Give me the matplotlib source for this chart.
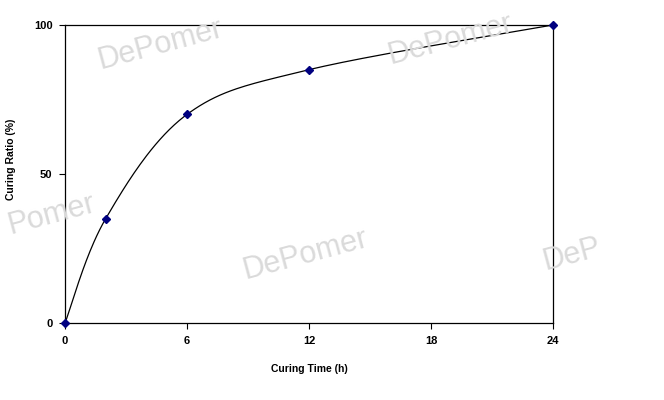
import numpy as np
import matplotlib
matplotlib.use('Agg')
import matplotlib.pyplot as plt

# data
curing_time = [0, 2, 6, 12, 24]
curing_ratio = [0, 35, 70, 85, 100]
x_ticks = [0, 6, 12, 18, 24]
y_ticks = [0, 50, 100]

plt.rcParams['font.family'] = ['Liberation Sans', 'DejaVu Sans']


def smooth_line(xs, ys, n=40):
    # excel style smoothed line: bezier segments with catmull-rom handles
    px = np.array(xs, float)
    py = np.array(ys, float)
    ox, oy = [], []
    for i in range(len(px) - 1):
        x0, y0 = (px[i - 1], py[i - 1]) if i > 0 else (px[i], py[i])
        x3, y3 = (px[i + 2], py[i + 2]) if i + 2 < len(px) else (px[i + 1], py[i + 1])
        c1x = px[i] + (px[i + 1] - x0) / 6
        c1y = py[i] + (py[i + 1] - y0) / 6
        c2x = px[i + 1] - (x3 - px[i]) / 6
        c2y = py[i + 1] - (y3 - py[i]) / 6
        t = np.linspace(0, 1, n)
        ox.extend((1 - t) ** 3 * px[i] + 3 * (1 - t) ** 2 * t * c1x + 3 * (1 - t) * t ** 2 * c2x + t ** 3 * px[i + 1])
        oy.extend((1 - t) ** 3 * py[i] + 3 * (1 - t) ** 2 * t * c1y + 3 * (1 - t) * t ** 2 * c2y + t ** 3 * py[i + 1])
    return ox, oy


fig = plt.figure(figsize=(6.64, 4.0), dpi=100)
ax = fig.add_axes([65 / 664, 1 - 323 / 400, 488 / 664, 298 / 400])

# faint watermarks behind everything
for (wx, wy, txt) in [(95, 45, 'DePomer'), (385, 40, 'DePomer'), (5, 215, 'Pomer'),
                      (240, 255, 'DePomer'), (540, 255, 'DeP')]:
    fig.text(wx / 664, 1 - wy / 400, txt, fontsize=22, color='#dadada',
             rotation=15, va='center', ha='left', zorder=0)

sx, sy = smooth_line(curing_time, curing_ratio)
ax.plot(sx, sy, color='black', lw=0.9, zorder=3)
ax.plot(curing_time, curing_ratio, ls='none', marker='D', ms=4.5,
        color='#000080', zorder=4, clip_on=False)

ax.set_xlim(0, 24)
ax.set_ylim(0, 100)
ax.set_xticks(x_ticks)
ax.set_yticks(y_ticks)
ax.tick_params(direction='out', length=4, width=0.8, labelsize=8, pad=5)
for lab in ax.get_xticklabels() + ax.get_yticklabels():
    lab.set_fontweight('bold')
for s in ax.spines.values():
    s.set_linewidth(0.9)
ax.patch.set_alpha(0)
ax.set_xlabel('Curing Time (h)', fontsize=7.5, fontweight='bold', labelpad=13)
ax.set_ylabel('Curing Ratio (%)', fontsize=7.5, fontweight='bold')
ax.yaxis.set_label_coords(-0.1, 0.55)

fig.savefig('out.png', dpi=100)
